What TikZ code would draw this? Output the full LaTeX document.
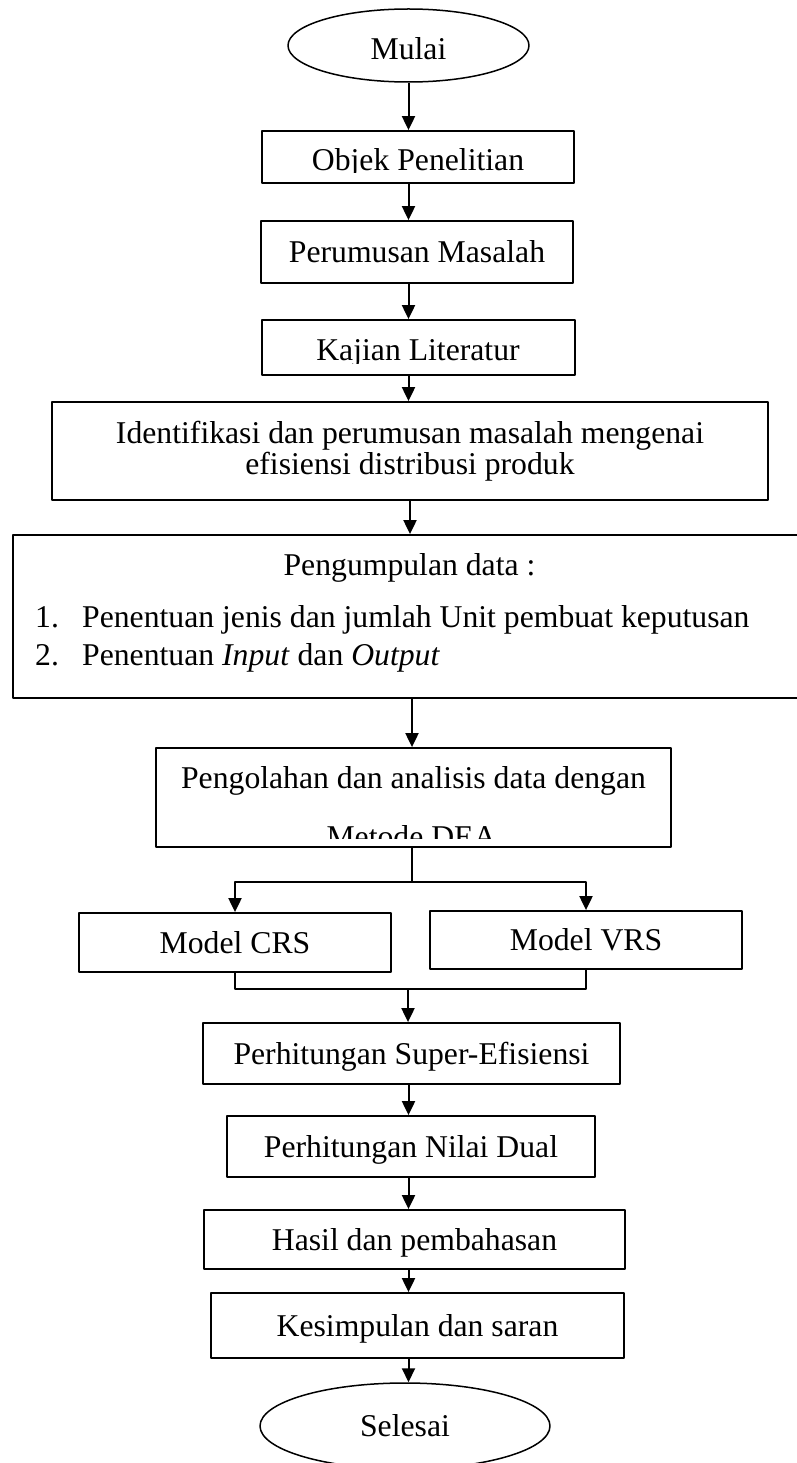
\documentclass[tikz,border=0pt]{standalone}
\usepackage{fontspec}
\setmainfont{Liberation Serif}
\usetikzlibrary{arrows.meta,shapes.geometric}
\tikzset{
  box/.style={draw, line width=1.8pt, inner sep=0pt, text height=21pt, text depth=0pt},
  term/.style={draw, ellipse, line width=1.5pt, inner sep=0pt, text height=21pt, text depth=0pt},
  txt/.style={inner sep=0pt},
  arr/.style={line width=2pt, -{Triangle[length=14pt,width=13pt]}},
  thinline/.style={line width=1.2pt}
}
\begin{document}
\begin{tikzpicture}[x=1pt, y=-1pt, line join=round, font=\fontsize{31.7}{31}\selectfont]
\fill[white] (0,0) rectangle (797,1463);
\useasboundingbox (0,0) rectangle (797,1463);

\node[term, minimum width=241pt, minimum height=73pt, text height=29pt] (mulai) at (408.5,45.5) {Mulai};
\node[box, minimum width=312pt, minimum height=52pt] (obj) at (418,157) {};
\node[box, minimum width=312pt, minimum height=62pt] (per) at (417,252) {Perumusan Masalah};
\node[box, minimum width=313pt, minimum height=55pt] (kaj) at (418.5,347.5) {};
\node[draw, line width=1.8pt, inner sep=0pt, align=center, minimum width=716pt, minimum height=98pt] (idf) at (410,451)
  {Identifikasi dan perumusan masalah mengenai\\efisiensi distribusi produk};
\node[draw, line width=1.8pt, minimum width=789pt, minimum height=163pt] (data) at (407.5,616.5) {};
\node[box, minimum width=515pt, minimum height=99pt] (dea) at (413.5,797.5) {};
\node[box, minimum width=312pt, minimum height=59pt] (crs) at (235,942.5) {Model CRS};
\node[box, minimum width=312pt, minimum height=58pt] (vrs) at (586,940) {Model VRS};
\node[box, minimum width=417pt, minimum height=61pt] (sup) at (411.5,1053.5) {Perhitungan Super-Efisiensi};
\node[box, minimum width=368pt, minimum height=61pt] (nil) at (411,1146.5) {Perhitungan Nilai Dual};
\node[box, minimum width=421pt, minimum height=59pt] (has) at (414.5,1239.5) {Hasil dan pembahasan};
\node[box, minimum width=413pt, minimum height=65pt] (kes) at (417.5,1325.5) {Kesimpulan dan saran};
\node[term, minimum width=290pt, minimum height=86pt] (sel) at (405,1426) {Selesai};

% text cut off at the bottom of the box
\begin{scope}
  \clip (obj.north west) rectangle ([yshift=11pt]obj.south east);
  \node[txt, anchor=base] (obj-t) at (418,171) {Objek Penelitian};
\end{scope}
\begin{scope}
  \clip (kaj.north west) rectangle ([yshift=12pt]kaj.south east);
  \node[txt, anchor=base] (kaj-t) at (418,360) {Kajian Literatur};
\end{scope}
\begin{scope}
  \clip (dea.north west) rectangle ([yshift=9pt]dea.south east);
  \node[txt, anchor=base] (dea-1) at (413.5,788) {Pengolahan dan analisis data dengan};
  \node[txt, anchor=base] (dea-2) at (411.5,847) {Metode DEA};
\end{scope}

\node[txt, anchor=base] (data-t) at (409.5,575) {Pengumpulan data :};
\node[txt, anchor=base west] (data-1) at (35,627) {\makebox[47pt][l]{1.}Penentuan jenis dan jumlah Unit pembuat keputusan};
\node[txt, anchor=base west] (data-2) at (35,665) {\makebox[47pt][l]{2.}Penentuan \textit{Input} dan \textit{Output}};

\coordinate (fork) at (412,882);
\coordinate (join) at (408,989);

\draw[arr] (mulai.south) -- (mulai.south |- obj.north);
\foreach \a/\b in {obj/per, per/kaj, kaj/idf}
  \draw[arr] (\a.south -| mulai) -- (\b.north -| mulai);
\draw[arr] (idf.south) -- (idf.south |- data.north);
\draw[arr] (fork |- data.south) -- (fork |- dea.north);
\draw[thinline] (fork |- dea.south) -- (fork);
\draw[arr] (fork) -| (crs.north);
\draw[arr] (fork) -| (vrs.north);
\draw[thinline] (crs.south) |- (join) -| (vrs.south);
\draw[arr] (join) -- (join |- sup.north);
\foreach \a/\b in {sup/nil, nil/has, has/kes, kes/sel}
  \draw[arr] (\a.south -| mulai) -- (\b.north -| mulai);
\end{tikzpicture}
\end{document}
